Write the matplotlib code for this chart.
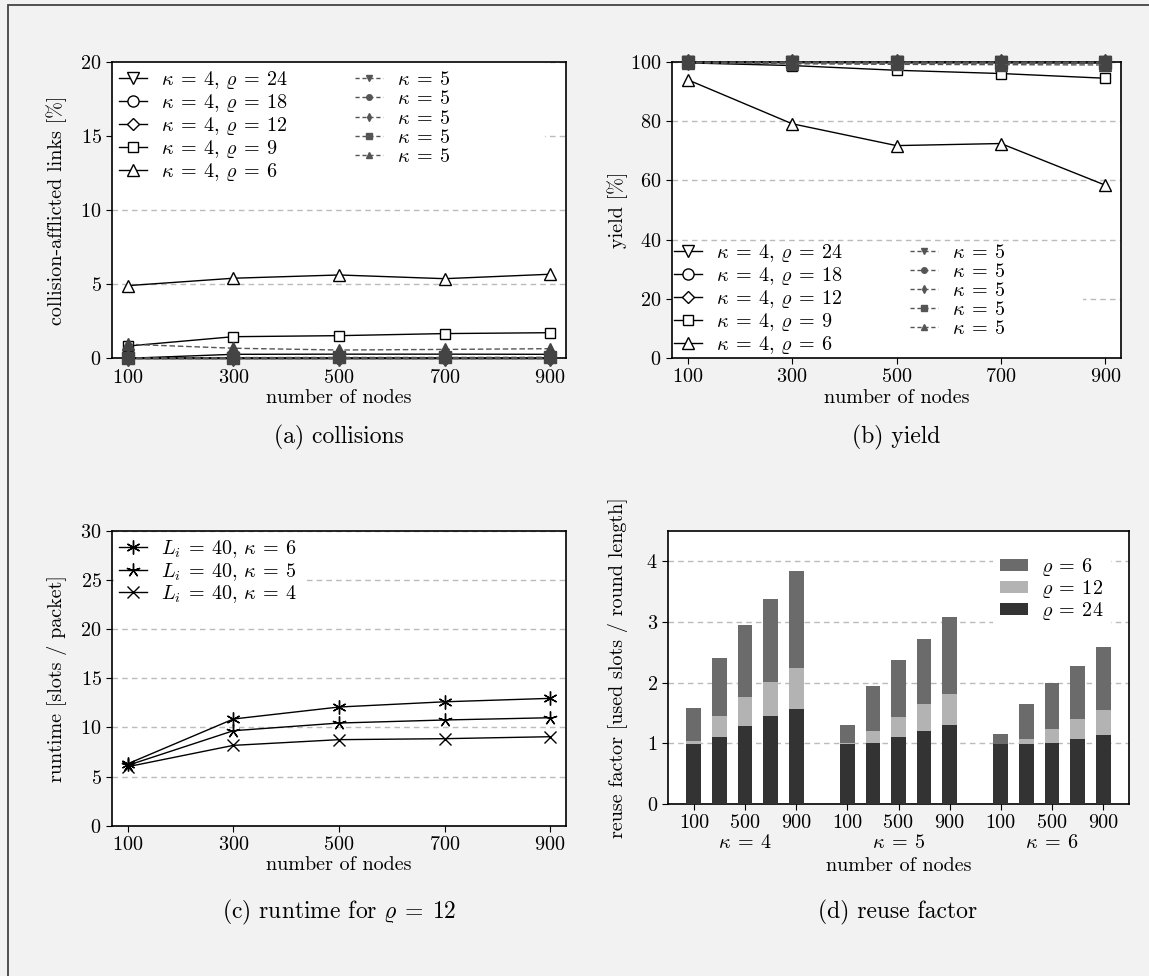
import numpy as np
import matplotlib
matplotlib.use("Agg")
import matplotlib.pyplot as plt
from matplotlib.lines import Line2D
from matplotlib.patches import Rectangle
import matplotlib.transforms as mtransforms

plt.rcParams["font.family"] = "serif"
plt.rcParams["font.serif"] = ["cmr10"]
plt.rcParams["mathtext.fontset"] = "cm"
plt.rcParams["axes.formatter.use_mathtext"] = True
plt.rcParams["font.size"] = 14

# ---- data ----
nodes = [100, 300, 500, 700, 900]
rho_values = [24, 18, 12, 9, 6]

# collision-afflicted links [%], rows follow rho_values
coll_k4 = [
    [0.0, 0.0, 0.0, 0.0, 0.0],
    [0.0, 0.0, 0.0, 0.0, 0.0],
    [0.0, 0.27, 0.28, 0.28, 0.27],
    [0.83, 1.46, 1.53, 1.67, 1.73],
    [4.91, 5.41, 5.63, 5.38, 5.68],
]
coll_k5 = [
    [0.0, 0.0, 0.0, 0.0, 0.0],
    [0.0, 0.0, 0.0, 0.0, 0.0],
    [0.0, 0.01, 0.01, 0.02, 0.02],
    [0.02, 0.05, 0.06, 0.06, 0.07],
    [0.95, 0.68, 0.56, 0.60, 0.65],
]

# yield [%]
yield_k4 = [
    [100.0, 100.0, 100.0, 100.0, 100.0],
    [100.0, 100.0, 100.0, 100.0, 100.0],
    [100.0, 100.0, 99.9, 99.9, 99.8],
    [99.8, 98.9, 97.3, 96.2, 94.6],
    [94.1, 79.2, 71.8, 72.5, 58.4],
]
yield_k5 = [
    [100.0, 100.0, 100.0, 100.0, 100.0],
    [100.0, 100.0, 100.0, 100.0, 100.0],
    [100.0, 100.0, 100.0, 100.0, 100.0],
    [100.0, 100.0, 100.0, 99.9, 99.9],
    [99.8, 99.5, 99.3, 99.2, 99.1],
]

# runtime [slots / packet] for rho = 12
runtime_k6 = [6.3, 10.85, 12.07, 12.6, 12.95]
runtime_k5 = [6.14, 9.66, 10.44, 10.75, 10.98]
runtime_k4 = [6.0, 8.17, 8.75, 8.85, 9.05]

# reuse factor, kappa = 4, 5, 6 one after another
kappas = [4, 5, 6]
reuse_r6 = [1.58, 2.40, 2.94, 3.37, 3.83, 1.30, 1.94, 2.37, 2.71, 3.08, 1.15, 1.64, 2.00, 2.27, 2.58]
reuse_r12 = [1.04, 1.45, 1.76, 2.01, 2.24, 1.00, 1.20, 1.43, 1.64, 1.81, 0.99, 1.07, 1.23, 1.40, 1.55]
reuse_r24 = [0.99, 1.10, 1.28, 1.45, 1.56, 0.99, 1.00, 1.10, 1.20, 1.30, 0.99, 0.99, 1.00, 1.07, 1.13]

# ---- styling ----
k4_markers = ["v", "o", "D", "s", "^"]
k4_sizes = [8, 8, 6.5, 7.5, 8]
k5_markers = ["v", "o", "d", "s", "^"]
k5_color = "#555555"
grid_color = "#bbbbbb"
EQ = r"\:=\:"
SEP = r",\,"

fig = plt.figure(figsize=(11.49, 9.76), dpi=100, facecolor="#f2f2f2")
W, H = 1149.0, 976.0


def add_axes(left, top, right, bottom):
    return fig.add_axes([left / W, 1 - bottom / H, (right - left) / W, (bottom - top) / H])


def style(ax):
    ax.set_facecolor("white")
    ax.grid(axis="y", linestyle=(0, (4, 3)), color=grid_color, linewidth=1)
    ax.set_axisbelow(True)
    for s in ax.spines.values():
        s.set_linewidth(1.2)
    ax.tick_params(direction="out", length=4, width=0.8, labelsize=14.5)


def place_labels(ax, xl, yl, xy, yx):
    ax.set_xlabel(xl, fontsize=14.5)
    ax.set_ylabel(yl, fontsize=14.5)
    ax.xaxis.set_label_coords(0.5, xy)
    ax.xaxis.label.set_verticalalignment("center")
    ax.yaxis.set_label_coords(yx, 0.5)
    ax.yaxis.label.set_verticalalignment("center")


def line_panel(ax, k4, k5):
    for i, rho in enumerate(rho_values):
        ax.plot(nodes, k4[i], color="black", lw=1, marker=k4_markers[i], ms=k4_sizes[i],
                mfc="white", mec="black", mew=1, clip_on=False, zorder=3)
    for i, rho in enumerate(rho_values):
        ax.plot(nodes, k5[i], color=k5_color, lw=1, ls=(0, (4, 2)), marker=k5_markers[i],
                ms=8, mfc="#444444", mec="#444444", clip_on=False, zorder=4)
    ax.set_xlim(70, 930)
    ax.set_xticks(nodes)
    handles = []
    labels = []
    for i, rho in enumerate(rho_values):
        handles.append(Line2D([], [], color="black", lw=1, marker=k4_markers[i], ms=k4_sizes[i],
                              mfc="white", mec="black"))
        labels.append(r"$\kappa%s4%s\varrho%s%d$" % (EQ, SEP, EQ, rho))
    for i, rho in enumerate(rho_values):
        handles.append(Line2D([], [], color=k5_color, lw=1, ls=(0, (3, 2)), marker=k5_markers[i],
                              ms=4, mfc=k5_color, mec=k5_color))
        labels.append(r"$\kappa%s5$" % EQ)
    return handles, labels


leg_kw = dict(handlelength=1.4, handletextpad=0.7, labelspacing=0.05,
              borderaxespad=0.1, borderpad=0.25, fontsize=14.5)

# (a) collisions
ax_a = add_axes(112, 62.3, 566, 358.3)
style(ax_a)
h, l = line_panel(ax_a, coll_k4, coll_k5)
ax_a.set_ylim(0, 20)
ax_a.set_yticks([0, 5, 10, 15, 20])
ax_a.add_patch(Rectangle((0, 0.66), 0.954, 0.34, transform=ax_a.transAxes,
                         fc="white", ec="none", zorder=1))
ax_a.legend(h, l, ncol=2, loc="upper left", frameon=False, columnspacing=3.3, **leg_kw)
place_labels(ax_a, "number of nodes", "collision-afflicted links [%]", -0.134, -0.121)

# (b) yield
ax_b = add_axes(672, 62.3, 1121, 357.7)
style(ax_b)
h, l = line_panel(ax_b, yield_k4, yield_k5)
ax_b.set_ylim(0, 100)
ax_b.set_yticks([0, 20, 40, 60, 80, 100])
ax_b.add_patch(Rectangle((0, 0), 0.915, 0.345, transform=ax_b.transAxes,
                         fc="white", ec="none", zorder=1))
ax_b.legend(h, l, ncol=2, loc="lower left", frameon=False, columnspacing=3.3,
            **dict(leg_kw, borderaxespad=0.0, borderpad=0.1))
place_labels(ax_b, "number of nodes", "yield [%]", -0.137, -0.122)

# (c) runtime
ax_c = add_axes(112, 530.7, 566, 825.7)
style(ax_c)
ax_c.plot(nodes, runtime_k6, color="black", lw=1, marker=(6, 2, 0), ms=10, mew=1,
          label=r"$L_i%s40%s\kappa%s6$" % (EQ, SEP, EQ), clip_on=False)
ax_c.plot(nodes, runtime_k5, color="black", lw=1, marker=(5, 2, 0), ms=10, mew=1,
          label=r"$L_i%s40%s\kappa%s5$" % (EQ, SEP, EQ), clip_on=False)
ax_c.plot(nodes, runtime_k4, color="black", lw=1, marker="x", ms=8, mew=1,
          label=r"$L_i%s40%s\kappa%s4$" % (EQ, SEP, EQ), clip_on=False)
ax_c.set_xlim(70, 930)
ax_c.set_xticks(nodes)
ax_c.set_ylim(0, 30)
ax_c.set_yticks([0, 5, 10, 15, 20, 25, 30])
ax_c.legend(loc="upper left", frameon=True, facecolor="white", edgecolor="none",
            framealpha=1, fancybox=False, **leg_kw)
place_labels(ax_c, "number of nodes", "runtime [slots / packet]", -0.133, -0.121)

# (d) reuse factor, overlapping bars per rho
ax_d = add_axes(668.3, 530.7, 1128.7, 804)
style(ax_d)
pos = np.concatenate([np.arange(len(nodes)) + 6 * g for g in range(len(kappas))])
bw = 0.58
ax_d.bar(pos, reuse_r6, width=bw, color="#6b6b6b", label=r"$\varrho%s6$" % EQ, zorder=2)
ax_d.bar(pos, reuse_r12, width=bw, color="#b3b3b3", label=r"$\varrho%s12$" % EQ, zorder=3)
ax_d.bar(pos, reuse_r24, width=bw, color="#333333", label=r"$\varrho%s24$" % EQ, zorder=4)
ax_d.set_xlim(-1, 17)
ax_d.set_ylim(0, 4.5)
ax_d.set_yticks([0, 1, 2, 3, 4])
tick_idx = [0, 2, 4]
ax_d.set_xticks([p for g in range(len(kappas)) for p in pos[g * 5:(g + 1) * 5][tick_idx]])
ax_d.set_xticklabels([str(nodes[i]) for g in range(len(kappas)) for i in tick_idx])
blend = mtransforms.blended_transform_factory(ax_d.transData, ax_d.transAxes)
for g, k in enumerate(kappas):
    ax_d.text(pos[g * 5 + 2], -0.143, r"$\kappa%s%d$" % (EQ, k), transform=blend,
              ha="center", va="center", fontsize=14.5)
ax_d.legend(loc="upper right", frameon=True, facecolor="white", edgecolor="none",
            framealpha=1, fancybox=False, handlelength=1.4, handleheight=0.55,
            handletextpad=0.65, labelspacing=0.0, borderaxespad=0.9, borderpad=0.35,
            fontsize=14.5)
place_labels(ax_d, "number of nodes", "reuse factor [used slots / round length]", -0.227, -0.109)

# sub-figure captions
fig.text(339 / W, 1 - 437 / H, "(a) collisions", ha="center", va="center", fontsize=17)
fig.text(896 / W, 1 - 437 / H, "(b) yield", ha="center", va="center", fontsize=17)
fig.text(339 / W, 1 - 912 / H, r"(c) runtime for $\varrho%s12$" % EQ, ha="center", va="center", fontsize=17)
fig.text(898 / W, 1 - 912 / H, "(d) reuse factor", ha="center", va="center", fontsize=17)

# page frame
fig.add_artist(Rectangle((8 / W, -0.1), 1.2, 1 - 4.7 / H + 0.1, transform=fig.transFigure,
                         fill=False, ec="#444444", lw=1.3))

fig.savefig("out.png", dpi=100, facecolor=fig.get_facecolor())
